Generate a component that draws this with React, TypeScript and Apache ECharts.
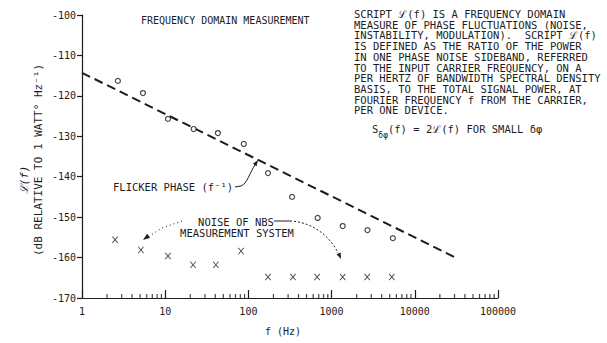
import { useEffect, useRef } from 'react';
import * as echarts from 'echarts';

// ---- data ----
const xTickLabels = ['1', '10', '100', '1000', '10000', '100000'];
const yTickLabels = ['-170', '-160', '-150', '-140', '-130', '-120', '-110', '-100'];

// measured device noise (circles)
const circleF = [2.7, 5.4, 10.8, 22, 43, 88, 172, 335, 680, 1360, 2700, 5450];
const circleDb = [-116.3, -119.3, -125.7, -128.2, -129.2, -131.9, -139.1, -145.0, -150.2, -152.2, -153.2, -155.2];

// noise of NBS measurement system (crosses)
const crossF = [2.5, 5.1, 10.8, 21.6, 40.6, 81.6, 172, 343, 670, 1360, 2680, 5290];
const crossDb = [-155.6, -158.1, -159.6, -161.8, -161.8, -158.4, -164.8, -164.8, -164.8, -164.8, -164.8, -164.8];

// flicker phase (f^-1) reference line end points
const flickerF = [1, 33000];
const flickerDb = [-114.3, -160.3];

// minor tick positions of the log axis
const minorMultipliers = [2, 3, 4, 5, 6, 7, 8, 9];
const decades = [1, 10, 100, 1000, 10000];

const paragraph = [
  'SCRIPT ℒ(f) IS A FREQUENCY DOMAIN',
  'MEASURE OF PHASE FLUCTUATIONS (NOISE,',
  'INSTABILITY, MODULATION).  SCRIPT ℒ(f)',
  'IS DEFINED AS THE RATIO OF THE POWER',
  'IN ONE PHASE NOISE SIDEBAND, REFERRED',
  'TO THE INPUT CARRIER FREQUENCY, ON A',
  'PER HERTZ OF BANDWIDTH SPECTRAL DENSITY',
  'BASIS, TO THE TOTAL SIGNAL POWER, AT',
  'FOURIER FREQUENCY f FROM THE CARRIER,',
  'PER ONE DEVICE.',
];

const INK = '#1c1c1c';
const FONT = '"DejaVu Sans Mono", monospace';

function arrowHead(tx: number, ty: number, dx: number, dy: number, len = 6, half = 2.2) {
  const n = Math.hypot(dx, dy);
  const ux = dx / n, uy = dy / n;
  const bx = tx - ux * len, by = ty - uy * len;
  const px = -uy, py = ux;
  return {
    type: 'polygon',
    shape: { points: [[tx, ty], [bx + px * half, by + py * half], [bx - px * half, by - py * half]] },
    style: { fill: INK },
    silent: true,
  };
}

export default function App() {
  const ref = useRef<HTMLDivElement>(null);

  useEffect(() => {
    if (!ref.current) return;
    const chart = echarts.init(ref.current, undefined, { renderer: 'svg' });

    const minorTicks: number[][] = [];
    decades.forEach((d) => minorMultipliers.forEach((m) => minorTicks.push([m * d, -170])));

    const textStyle = (text: string, x: number, y: number, extra: any = {}) => ({
      type: 'text',
      x,
      y,
      silent: true,
      style: {
        text,
        fill: INK,
        font: `10.5px ${FONT}`,
        align: 'left',
        verticalAlign: 'middle',
        ...extra,
      },
    });

    const graphics: any[] = [
      textStyle('FREQUENCY DOMAIN MEASUREMENT', 141, 20, { font: `10px ${FONT}` }),
      ...paragraph.map((line, i) => textStyle(line, 354, 14 + i * 10.7)),
      {
        type: 'text',
        x: 372,
        y: 131,
        silent: true,
        style: {
          text: '{a|S}{s|δφ}{a|(f) = 2ℒ(f) FOR SMALL δφ}',
          align: 'left',
          verticalAlign: 'middle',
          rich: {
            a: { font: `10.5px ${FONT}`, fill: INK, lineHeight: 16, verticalAlign: 'top' },
            s: { font: `8px ${FONT}`, fill: INK, lineHeight: 16, verticalAlign: 'bottom' },
          },
        },
      },
      // y axis title
      {
        type: 'text', x: 24, y: 180, rotation: Math.PI / 2, silent: true,
        style: { text: 'ℒ(f)', fill: INK, font: `italic 11px ${FONT}`, align: 'center', verticalAlign: 'middle' },
      },
      {
        type: 'text', x: 38, y: 160, rotation: Math.PI / 2, silent: true,
        style: { text: '(dB RELATIVE TO 1 WATT° Hz⁻¹)', fill: INK, font: `11px ${FONT}`, align: 'center', verticalAlign: 'middle' },
      },
      // x axis title
      textStyle('f (Hz)', 283, 331, { align: 'center', font: `10px ${FONT}` }),
      // flicker phase annotation
      textStyle('FLICKER PHASE (f⁻¹)', 113, 187),
      {
        type: 'polyline', silent: true,
        shape: { points: [[235, 187], [241, 186]] },
        style: { stroke: INK, lineWidth: 1, fill: 'none' },
      },
      {
        type: 'bezierCurve', silent: true,
        shape: { x1: 241, y1: 186, cpx1: 247, cpy1: 184, cpx2: 250, cpy2: 172, x2: 255, y2: 165 },
        style: { stroke: INK, lineWidth: 1, fill: 'none' },
      },
      arrowHead(258, 160, 0.55, -0.84),
      // NBS noise annotation
      textStyle('NOISE OF NBS', 236, 222, { align: 'center' }),
      textStyle('MEASUREMENT SYSTEM', 237, 233, { align: 'center' }),
      {
        type: 'polyline', silent: true,
        shape: { points: [[182, 221], [162, 228], [151, 235]] },
        style: { stroke: INK, lineWidth: 1, lineDash: [1, 3], fill: 'none' },
      },
      arrowHead(143, 240, -0.8, 0.6, 7, 2.5),
      {
        type: 'polyline', silent: true,
        shape: { points: [[274, 221], [290, 221]] },
        style: { stroke: INK, lineWidth: 1, fill: 'none' },
      },
      {
        type: 'bezierCurve', silent: true,
        shape: { x1: 290, y1: 221, cpx1: 314, cpy1: 222, cpx2: 331, cpy2: 238, x2: 338, y2: 253 },
        style: { stroke: INK, lineWidth: 1, lineDash: [2, 2], fill: 'none' },
      },
      arrowHead(341, 259, 0.4, 0.92, 6, 2.2),
    ];

    chart.setOption({
      animation: false,
      backgroundColor: '#ffffff',
      grid: { left: 82, right: 109, top: 15, bottom: 45 },
      xAxis: {
        type: 'log',
        logBase: 10,
        min: 1,
        max: 100000,
        axisLine: { lineStyle: { color: INK, width: 1.2 } },
        axisTick: { inside: true, length: 8, lineStyle: { color: INK, width: 1.2 } },
        splitLine: { show: false },
        axisLabel: {
          color: INK,
          fontFamily: FONT,
          fontSize: 10,
          margin: 8,
          formatter: (v: number) => {
            const i = Math.round(Math.log10(v));
            return xTickLabels[i] ?? '';
          },
        },
      },
      yAxis: {
        type: 'value',
        min: -170,
        max: -100,
        interval: 10,
        axisLine: { show: true, lineStyle: { color: INK, width: 1.2 } },
        axisTick: { show: true, inside: false, length: 5, lineStyle: { color: INK, width: 1.2 } },
        splitLine: { show: false },
        axisLabel: {
          color: INK,
          fontFamily: FONT,
          fontSize: 10,
          margin: 6,
          formatter: (v: number) => yTickLabels[Math.round((v + 170) / 10)] ?? '',
        },
      },
      series: [
        {
          type: 'line',
          data: flickerF.map((f, i) => [f, flickerDb[i]]),
          symbol: 'none',
          lineStyle: { color: INK, width: 2, type: [9, 5] },
          silent: true,
        },
        {
          type: 'scatter',
          data: circleF.map((f, i) => [f, circleDb[i]]),
          symbol: 'circle',
          symbolSize: 5,
          itemStyle: { color: '#ffffff', borderColor: INK, borderWidth: 1.2 },
          silent: true,
          z: 3,
        },
        {
          type: 'scatter',
          data: crossF.map((f, i) => [f, crossDb[i]]),
          symbol: 'path://M0,1 L1,0 L5,4 L9,0 L10,1 L6,5 L10,9 L9,10 L5,6 L1,10 L0,9 L4,5 Z',
          symbolSize: [6, 7],
          itemStyle: { color: INK },
          silent: true,
          z: 3,
        },
        {
          type: 'scatter',
          data: minorTicks,
          symbol: 'rect',
          symbolSize: [1.2, 4],
          symbolOffset: [0, -2],
          itemStyle: { color: INK },
          silent: true,
          clip: false,
          z: 4,
        },
      ],
      graphic: graphics,
    });

    return () => chart.dispose();
  }, []);

  return (
    <div
      ref={ref}
      style={{ position: 'fixed', left: 0, top: 0, width: 607, height: 343, background: '#fff' }}
    />
  );
}
